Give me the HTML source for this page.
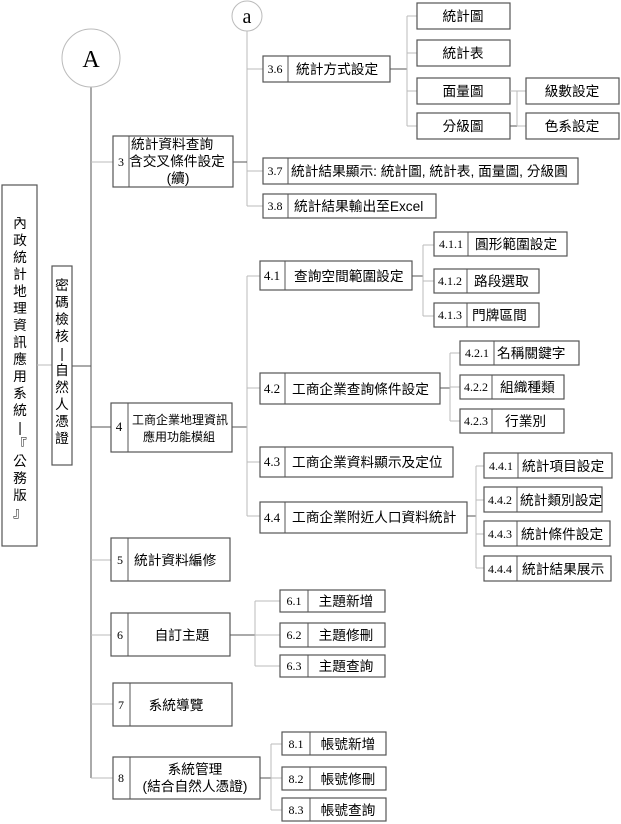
<!DOCTYPE html>
<html><head><meta charset="utf-8"><style>
html,body{margin:0;padding:0;background:#fff;width:621px;height:824px;overflow:hidden}
svg{display:block}
.b{fill:#fff;stroke:#555;stroke-width:1.2}
.d{stroke:#555;stroke-width:1}
.c{stroke:#bbb;stroke-width:1;fill:none}
.k{stroke:#555;stroke-width:1;fill:none}
.n{font-family:"Liberation Serif",serif;font-size:12px;fill:#000;text-anchor:middle}
.t{font-family:"Liberation Sans","Noto Sans CJK TC",sans-serif;font-size:13.7px;fill:#000}
.m{text-anchor:middle}
</style></head><body>
<svg width="621" height="824" viewBox="0 0 621 824" xmlns="http://www.w3.org/2000/svg">
<line class="k" x1="91" y1="87" x2="91" y2="778"/>
<line class="c" x1="247" y1="31" x2="247" y2="206"/>
<circle cx="91" cy="58" r="29" fill="#fff" stroke="#bbb"/>
<text x="91" y="67" class="m" style="font-family:'Liberation Serif',serif;font-size:24px">A</text>
<circle cx="247" cy="16" r="15" fill="#fff" stroke="#bbb"/>
<text x="247" y="23" class="m" style="font-family:'Liberation Serif',serif;font-size:20px">a</text>

<rect class="b" x="2" y="185" width="35" height="361"/>
<text class="t m" x="20" y="228">
<tspan x="20" dy="0">內</tspan><tspan x="20" dy="17">政</tspan><tspan x="20" dy="17">統</tspan><tspan x="20" dy="17">計</tspan><tspan x="20" dy="17">地</tspan><tspan x="20" dy="17">理</tspan><tspan x="20" dy="17">資</tspan><tspan x="20" dy="17">訊</tspan><tspan x="20" dy="17">應</tspan><tspan x="20" dy="17">用</tspan><tspan x="20" dy="17">系</tspan><tspan x="20" dy="17">統</tspan><tspan x="20" dy="17">|</tspan><tspan x="20" dy="17">『</tspan><tspan x="20" dy="17">公</tspan><tspan x="20" dy="17">務</tspan><tspan x="20" dy="17">版</tspan><tspan x="20" dy="17">』</tspan></text>
<line class="c" x1="37" y1="365" x2="52" y2="365"/>
<rect class="b" x="52" y="266" width="20" height="199"/>
<text class="t m" x="62" y="290">
<tspan x="62" dy="0">密</tspan><tspan x="62" dy="17">碼</tspan><tspan x="62" dy="17">檢</tspan><tspan x="62" dy="17">核</tspan><tspan x="62" dy="17">|</tspan><tspan x="62" dy="17">自</tspan><tspan x="62" dy="17">然</tspan><tspan x="62" dy="17">人</tspan><tspan x="62" dy="17">憑</tspan><tspan x="62" dy="17">證</tspan></text>
<line class="k" x1="72" y1="366" x2="91" y2="366"/>

<line class="c" x1="91" y1="162" x2="113" y2="162"/>
<line class="k" x1="91" y1="427" x2="111" y2="427"/>
<line class="c" x1="91" y1="560" x2="111" y2="560"/>
<line class="c" x1="91" y1="635" x2="111" y2="635"/>
<line class="c" x1="91" y1="704" x2="113" y2="704"/>
<line class="c" x1="91" y1="778" x2="113" y2="778"/>

<rect class="b" x="113" y="136" width="120" height="51"/>
<line class="d" x1="129" y1="136" x2="129" y2="187"/>
<text class="n" x="121" y="166">3</text>
<text class="t" x="131" y="149">統計資料查詢</text>
<text class="t" x="129" y="166">含交叉條件設定</text>
<text class="t m" x="178" y="183">(續)</text>
<line class="k" x1="233" y1="162" x2="247" y2="162"/>

<line class="c" x1="247" y1="69" x2="263" y2="69"/>
<line class="c" x1="247" y1="171" x2="263" y2="171"/>
<line class="c" x1="247" y1="206" x2="263" y2="206"/>
<rect class="b" x="263" y="56" width="127" height="26"/>
<line class="d" x1="288" y1="56" x2="288" y2="82"/>
<text class="n" x="275" y="73">3.6</text>
<text class="t" x="296" y="74">統計方式設定</text>
<line class="k" x1="390" y1="69" x2="407" y2="69"/>
<line class="c" x1="407" y1="16" x2="407" y2="126"/>
<line class="c" x1="407" y1="16" x2="417" y2="16"/>
<line class="c" x1="407" y1="53" x2="417" y2="53"/>
<line class="c" x1="407" y1="91" x2="417" y2="91"/>
<line class="c" x1="407" y1="126" x2="417" y2="126"/>
<rect class="b" x="417" y="3" width="93" height="26"/><text class="t m" x="463" y="21">統計圖</text>
<rect class="b" x="417" y="40" width="93" height="26"/><text class="t m" x="463" y="58">統計表</text>
<rect class="b" x="417" y="78" width="93" height="26"/><text class="t m" x="463" y="96">面量圖</text>
<rect class="b" x="417" y="113" width="93" height="26"/><text class="t m" x="463" y="131">分級圖</text>
<line class="c" x1="510" y1="91" x2="526" y2="91"/>
<line class="k" x1="510" y1="126" x2="517" y2="126"/>
<line class="c" x1="517" y1="91" x2="517" y2="126"/>
<line class="c" x1="517" y1="126" x2="526" y2="126"/>
<rect class="b" x="526" y="78" width="93" height="26"/><text class="t m" x="572" y="96">級數設定</text>
<rect class="b" x="526" y="113" width="93" height="26"/><text class="t m" x="572" y="131">色系設定</text>

<rect class="b" x="263" y="158" width="315" height="26"/>
<line class="d" x1="288" y1="158" x2="288" y2="184"/>
<text class="n" x="275" y="175">3.7</text>
<text class="t" x="291" y="176">統計結果顯示: 統計圖, 統計表, 面量圖, 分級圓</text>
<rect class="b" x="263" y="194" width="173" height="24"/>
<line class="d" x1="288" y1="194" x2="288" y2="218"/>
<text class="n" x="275" y="210">3.8</text>
<text class="t" x="294" y="211">統計結果輸出至Excel</text>

<rect class="b" x="111" y="403" width="121" height="49"/>
<line class="d" x1="128" y1="403" x2="128" y2="452"/>
<text class="n" x="119" y="431" style="font-size:13px">4</text>
<text class="t m" x="180" y="424" style="font-size:12px">工商企業地理資訊</text>
<text class="t m" x="179" y="441" style="font-size:12px">應用功能模組</text>
<line class="k" x1="232" y1="427" x2="247" y2="427"/>
<line class="c" x1="247" y1="276" x2="247" y2="516"/>
<line class="c" x1="247" y1="276" x2="260" y2="276"/>
<line class="c" x1="247" y1="388" x2="260" y2="388"/>
<line class="c" x1="247" y1="462" x2="260" y2="462"/>
<line class="c" x1="247" y1="516" x2="260" y2="516"/>

<rect class="b" x="260" y="261" width="152" height="29"/>
<line class="d" x1="285" y1="261" x2="285" y2="290"/>
<text class="n" x="272" y="280" style="font-size:13px">4.1</text>
<text class="t" x="294" y="281">查詢空間範圍設定</text>
<line class="k" x1="412" y1="276" x2="423" y2="276"/>
<line class="c" x1="423" y1="245" x2="423" y2="316"/>
<line class="c" x1="423" y1="245" x2="434" y2="245"/>
<line class="c" x1="423" y1="281" x2="434" y2="281"/>
<line class="c" x1="423" y1="316" x2="434" y2="316"/>
<rect class="b" x="434" y="232" width="133" height="24"/><line class="d" x1="468" y1="232" x2="468" y2="256"/>
<text class="n" x="451" y="248">4.1.1</text><text class="t" x="475" y="249">圓形範圍設定</text>
<rect class="b" x="434" y="269" width="105" height="24"/><line class="d" x1="467" y1="269" x2="467" y2="293"/>
<text class="n" x="450" y="285">4.1.2</text><text class="t" x="474" y="286">路段選取</text>
<rect class="b" x="434" y="303" width="105" height="24"/><line class="d" x1="467" y1="303" x2="467" y2="327"/>
<text class="n" x="450" y="319">4.1.3</text><text class="t" x="472" y="320">門牌區間</text>

<rect class="b" x="260" y="373" width="180" height="31"/>
<line class="d" x1="285" y1="373" x2="285" y2="404"/>
<text class="n" x="272" y="393" style="font-size:13px">4.2</text>
<text class="t" x="292" y="394">工商企業查詢條件設定</text>
<line class="k" x1="440" y1="388" x2="450" y2="388"/>
<line class="c" x1="450" y1="353" x2="450" y2="421"/>
<line class="c" x1="450" y1="353" x2="460" y2="353"/>
<line class="c" x1="450" y1="387" x2="460" y2="387"/>
<line class="c" x1="450" y1="421" x2="460" y2="421"/>
<rect class="b" x="460" y="341" width="119" height="24"/><line class="d" x1="494" y1="341" x2="494" y2="365"/>
<text class="n" x="477" y="357">4.2.1</text><text class="t" x="497" y="358">名稱關鍵字</text>
<rect class="b" x="460" y="375" width="104" height="24"/><line class="d" x1="492" y1="375" x2="492" y2="399"/>
<text class="n" x="476" y="391">4.2.2</text><text class="t" x="500" y="392">組織種類</text>
<rect class="b" x="460" y="409" width="104" height="24"/><line class="d" x1="492" y1="409" x2="492" y2="433"/>
<text class="n" x="476" y="425">4.2.3</text><text class="t" x="505" y="426">行業別</text>

<rect class="b" x="260" y="447" width="193" height="30"/>
<line class="d" x1="285" y1="447" x2="285" y2="477"/>
<text class="n" x="272" y="466" style="font-size:13px">4.3</text>
<text class="t" x="292" y="467">工商企業資料顯示及定位</text>

<rect class="b" x="260" y="502" width="207" height="31"/>
<line class="d" x1="285" y1="502" x2="285" y2="533"/>
<text class="n" x="272" y="522" style="font-size:13px">4.4</text>
<text class="t" x="292" y="522">工商企業附近人口資料統計</text>
<line class="k" x1="467" y1="516" x2="476" y2="516"/>
<line class="c" x1="476" y1="466" x2="476" y2="568"/>
<line class="c" x1="476" y1="466" x2="484" y2="466"/>
<line class="c" x1="476" y1="500" x2="484" y2="500"/>
<line class="c" x1="476" y1="534" x2="484" y2="534"/>
<line class="c" x1="476" y1="568" x2="484" y2="568"/>
<rect class="b" x="484" y="453" width="128" height="25"/><line class="d" x1="518" y1="453" x2="518" y2="478"/>
<text class="n" x="501" y="470">4.4.1</text><text class="t" x="522" y="471">統計項目設定</text>
<rect class="b" x="484" y="487" width="118" height="25"/><line class="d" x1="517" y1="487" x2="517" y2="512"/>
<text class="n" x="500" y="504">4.4.2</text><text class="t" x="520" y="505">統計類別設定</text>
<rect class="b" x="484" y="521" width="126" height="25"/><line class="d" x1="517" y1="521" x2="517" y2="546"/>
<text class="n" x="500" y="538">4.4.3</text><text class="t" x="521" y="539">統計條件設定</text>
<rect class="b" x="484" y="556" width="127" height="25"/><line class="d" x1="517" y1="556" x2="517" y2="581"/>
<text class="n" x="500" y="573">4.4.4</text><text class="t" x="522" y="574">統計結果展示</text>

<rect class="b" x="111" y="538" width="119" height="43"/>
<line class="d" x1="128" y1="538" x2="128" y2="581"/>
<text class="n" x="120" y="564">5</text>
<text class="t" x="134" y="565">統計資料編修</text>

<rect class="b" x="111" y="613" width="119" height="43"/>
<line class="d" x1="128" y1="613" x2="128" y2="656"/>
<text class="n" x="120" y="639">6</text>
<text class="t m" x="182" y="640">自訂主題</text>
<line class="k" x1="230" y1="635" x2="255" y2="635"/>
<line class="c" x1="255" y1="601" x2="255" y2="666"/>
<line class="c" x1="255" y1="601" x2="280" y2="601"/>
<line class="c" x1="255" y1="635" x2="280" y2="635"/>
<line class="c" x1="255" y1="666" x2="280" y2="666"/>
<rect class="b" x="280" y="590" width="105" height="22"/><line class="d" x1="308" y1="590" x2="308" y2="612"/>
<text class="n" x="294" y="605">6.1</text><text class="t m" x="346" y="606">主題新增</text>
<rect class="b" x="280" y="623" width="105" height="24"/><line class="d" x1="308" y1="623" x2="308" y2="647"/>
<text class="n" x="294" y="639">6.2</text><text class="t m" x="346" y="640">主題修刪</text>
<rect class="b" x="280" y="655" width="105" height="22"/><line class="d" x1="308" y1="655" x2="308" y2="677"/>
<text class="n" x="294" y="670">6.3</text><text class="t m" x="346" y="671">主題查詢</text>

<rect class="b" x="113" y="683" width="119" height="43"/>
<line class="d" x1="130" y1="683" x2="130" y2="726"/>
<text class="n" x="121" y="709">7</text>
<text class="t m" x="176" y="710">系統導覽</text>

<rect class="b" x="113" y="757" width="147" height="42"/>
<line class="d" x1="130" y1="757" x2="130" y2="799"/>
<text class="n" x="121" y="782">8</text>
<text class="t m" x="195" y="774">系統管理</text>
<text class="t m" x="195" y="791">(結合自然人憑證)</text>
<line class="k" x1="260" y1="778" x2="271" y2="778"/>
<line class="c" x1="271" y1="744" x2="271" y2="810"/>
<line class="c" x1="271" y1="744" x2="282" y2="744"/>
<line class="c" x1="271" y1="778" x2="282" y2="778"/>
<line class="c" x1="271" y1="810" x2="282" y2="810"/>
<rect class="b" x="282" y="732" width="104" height="23"/><line class="d" x1="310" y1="732" x2="310" y2="755"/>
<text class="n" x="296" y="748">8.1</text><text class="t m" x="348" y="749">帳號新增</text>
<rect class="b" x="282" y="767" width="104" height="23"/><line class="d" x1="310" y1="767" x2="310" y2="790"/>
<text class="n" x="296" y="783">8.2</text><text class="t m" x="348" y="784">帳號修刪</text>
<rect class="b" x="282" y="798" width="104" height="23"/><line class="d" x1="310" y1="798" x2="310" y2="821"/>
<text class="n" x="296" y="814">8.3</text><text class="t m" x="348" y="815">帳號查詢</text>
</svg>
</body></html>
